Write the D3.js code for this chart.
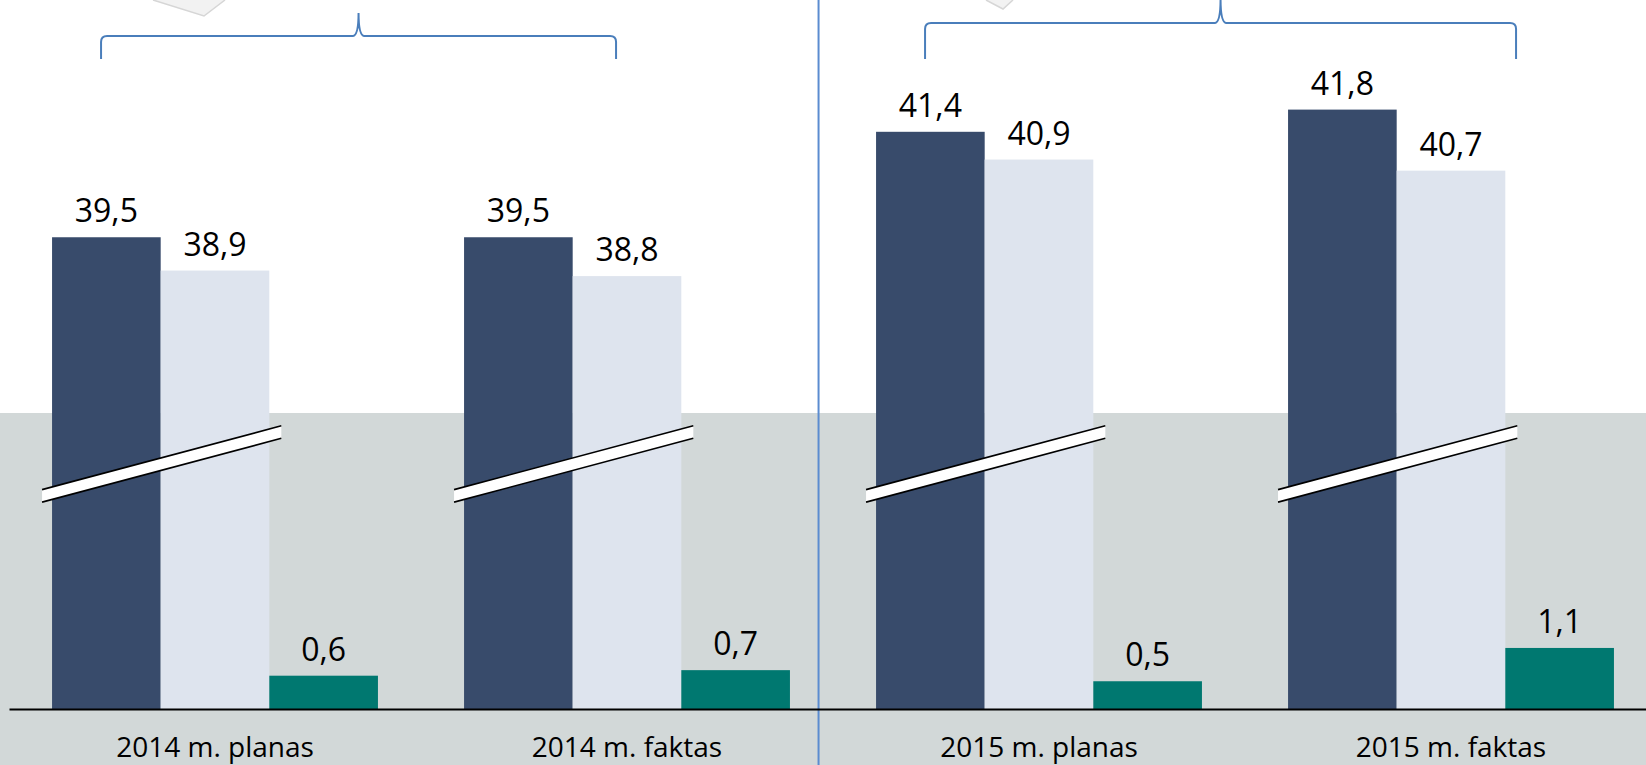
<!DOCTYPE html>
<html>
<head>
<meta charset="utf-8">
<script src="https://cdn.jsdelivr.net/npm/d3@7"></script>
<style>
  body { margin: 0; background: #fff; }
  svg { display: block; font-family: "Open Sans", sans-serif; }
</style>
</head>
<body>
<div class="chart"></div>
<script>
var categories = [`2014 m. planas`, `2014 m. faktas`, `2015 m. planas`, `2015 m. faktas`];
var planValues = [39.5, 39.5, 41.4, 41.8];
var factValues = [38.9, 38.8, 40.9, 40.7];
var diffValues = [0.6, 0.7, 0.5, 1.1];
var seriesNames = [`plan`, `fact`, `diff`];

var fullWidth = 1646;
var fullHeight = 765;
var baseY = 709;
var breakOffset = 31; // values cut out by the axis break

var colors = {plan: `#384b6b`, fact: `#dee4ee`, diff: `#007870`};

var svg = d3.select(`.chart`)
    .append(`svg`)
    .attr(`width`, fullWidth)
    .attr(`height`, fullHeight)
    .attr(`viewBox`, `0 0 ${fullWidth} ${fullHeight}`);

var x0 = d3.scaleBand()
    .domain(categories)
    .range([9, 1657])
    .paddingInner(0.209)
    .paddingOuter(0.1045);

var x1 = d3.scaleBand()
    .domain(seriesNames)
    .range([0, x0.bandwidth()]);

var y = d3.scaleLinear()
    .domain([0, 12])
    .range([baseY, baseY - 12 * 55.5]);

var fmt = v => d3.format(`.1f`)(v).replace(`.`, `,`);

// grey band behind lower part
svg.append(`rect`)
    .attr(`x`, 0).attr(`y`, 413)
    .attr(`width`, fullWidth).attr(`height`, fullHeight - 413)
    .attr(`fill`, `#d2d8d8`);

// separator between years
var sepX = x0(categories[2]) - 57.5;
svg.append(`line`)
    .attr(`x1`, sepX).attr(`x2`, sepX)
    .attr(`y1`, 0).attr(`y2`, fullHeight)
    .attr(`stroke`, `#5b8cd0`)
    .attr(`stroke-width`, 2);

// cut-off shapes at the top
[[[153, 0], [204, 16], [225, 0]], [[986, 0], [1003, 9], [1013, 0]]].forEach(p => {
    svg.append(`path`)
        .attr(`d`, d3.line()(p))
        .attr(`fill`, `#f2f2f2`)
        .attr(`stroke`, `#d6d6d6`)
        .attr(`stroke-width`, 1.5);
});

// braces
var braces = [
    {a: 0, b: 1, endOff: 152, yMid: 36, yTip: 13},
    {a: 2, b: 3, endOff: 228, yMid: 23, yTip: -1}
];
braces.forEach(br => {
    var xa = x0(categories[br.a]) + 49;
    var xb = x0(categories[br.b]) + br.endOff;
    var xt = (xa + xb) / 2;
    var yb = 59, ym = br.yMid, r = 6;
    var d = `M${xa},${yb} V${ym + r} Q${xa},${ym} ${xa + r},${ym} H${xt - r}` +
        ` Q${xt},${ym} ${xt},${br.yTip} Q${xt},${ym} ${xt + r},${ym} H${xb - r}` +
        ` Q${xb},${ym} ${xb},${ym + r} V${yb}`;
    svg.append(`path`)
        .attr(`d`, d)
        .attr(`fill`, `none`)
        .attr(`stroke`, `#4a7ebb`)
        .attr(`stroke-width`, 2);
});

var rows = categories.map((c, i) => ({
    cat: c,
    bars: [
        {key: `plan`, value: planValues[i], plot: planValues[i] - breakOffset},
        {key: `fact`, value: factValues[i], plot: factValues[i] - breakOffset},
        {key: `diff`, value: diffValues[i], plot: diffValues[i]}
    ]
}));

var groups = svg.selectAll(`.group`)
    .data(rows)
    .enter()
    .append(`g`)
    .attr(`class`, `group`)
    .attr(`transform`, d => `translate(${x0(d.cat)},0)`);

groups.selectAll(`rect`)
    .data(d => d.bars)
    .enter()
    .append(`rect`)
    .attr(`x`, d => x1(d.key))
    .attr(`y`, d => y(d.plot))
    .attr(`width`, x1.bandwidth())
    .attr(`height`, d => baseY - y(d.plot))
    .attr(`fill`, d => colors[d.key]);

groups.selectAll(`.val`)
    .data(d => d.bars)
    .enter()
    .append(`text`)
    .attr(`class`, `val`)
    .attr(`x`, d => x1(d.key) + x1.bandwidth() / 2)
    .attr(`y`, d => y(d.plot) - 15)
    .attr(`text-anchor`, `middle`)
    .attr(`font-size`, 32)
    .attr(`fill`, `#000`)
    .text(d => fmt(d.value));

// axis break marks across the big bars
var bw = x1.bandwidth();
var breakL = 3.84, breakR = 4.99, gap = 12.5;
groups.each(function() {
    var g = d3.select(this);
    var xa = -10, xb = 2 * bw + 12;
    var ya = y(breakL) - gap / 2, yb = y(breakR) - gap / 2;
    g.append(`path`)
        .attr(`d`, `M${xa},${ya} L${xb},${yb} L${xb},${yb + gap} L${xa},${ya + gap} Z`)
        .attr(`fill`, `#fff`);
    [0, gap].forEach(o => {
        g.append(`line`)
            .attr(`x1`, xa).attr(`y1`, ya + o)
            .attr(`x2`, xb).attr(`y2`, yb + o)
            .attr(`stroke`, `#000`)
            .attr(`stroke-width`, 1.6);
    });
});

// category axis
var axis = svg.append(`g`)
    .attr(`transform`, `translate(0,${baseY})`)
    .call(d3.axisBottom(x0).tickSize(0).tickSizeOuter(0).tickPadding(28));
axis.select(`.domain`)
    .attr(`stroke`, `#000`)
    .attr(`stroke-width`, 2);
axis.selectAll(`text`)
    .attr(`font-family`, `"Open Sans", sans-serif`)
    .attr(`font-size`, 28)
    .attr(`fill`, `#000`);
</script>
</body>
</html>
